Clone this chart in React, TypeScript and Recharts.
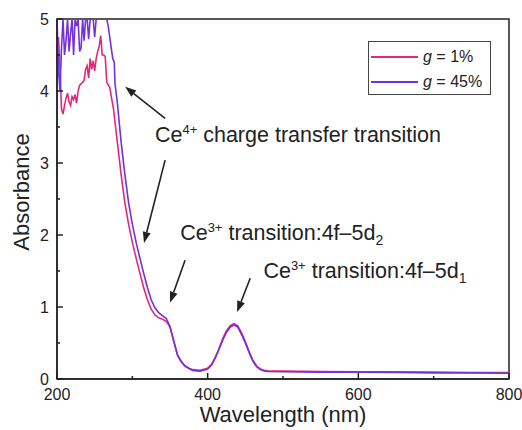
import React from 'react'
import {
  LineChart,
  Line,
  XAxis,
  YAxis,
  ReferenceArea,
  ReferenceLine,
  ReferenceDot,
} from 'recharts'

// g = 1%
const wavelength1 = [
  200, 202, 204, 206, 208, 210, 212, 214, 216, 218, 220, 222, 224, 226, 228, 230, 232, 234,
  236, 238, 240, 242, 244, 246, 248, 250, 252, 254, 256, 258, 260, 262, 264, 266,
  270, 275, 280, 285, 290, 295, 300, 305, 310, 315, 320, 325, 330, 335, 340, 345, 350, 355,
  360, 365, 370, 375, 380, 390, 400, 405, 410, 415, 420, 425, 430, 435, 440, 445, 450, 455,
  460, 465, 470, 475, 480, 500, 550, 600, 650, 700, 750, 800,
]
const absorbance1 = [
  4.6, 4.75, 4.3, 3.75, 3.68, 3.8, 3.9, 3.97, 3.85, 3.8, 3.92, 3.88, 3.95, 3.83, 4.0, 4.08, 4.1, 4.12,
  4.15, 4.3, 4.35, 4.18, 4.45, 4.3, 4.42, 4.28, 4.45, 4.55, 4.62, 4.77, 4.5, 4.5, 4.48, 4.12,
  4.05, 3.75, 3.3, 2.85, 2.45, 2.15, 1.9, 1.68, 1.47, 1.27, 1.1, 0.97, 0.89, 0.85, 0.83, 0.8, 0.72, 0.52,
  0.33, 0.24, 0.18, 0.15, 0.13, 0.12, 0.15, 0.2, 0.3, 0.42, 0.56, 0.67, 0.74, 0.77, 0.74, 0.64, 0.52, 0.38,
  0.26, 0.18, 0.14, 0.12, 0.115, 0.11, 0.105, 0.1, 0.1, 0.095, 0.09, 0.09,
]

// g = 45%
const wavelength45 = [
  200, 202, 204, 206, 208, 210, 212, 214, 216, 218, 220, 222, 224, 226, 228, 230, 232, 234,
  236, 238, 240, 242, 244, 246, 248, 250, 252, 254, 256, 258, 260, 262, 264, 266,
  268, 270, 272, 274, 276, 277,
  280, 285, 290, 295, 300, 305, 310, 315, 320, 325, 330, 335, 340, 345, 350, 355, 360, 365,
  370, 375, 380, 390, 400, 405, 410, 415, 420, 425, 430, 435, 440, 445, 450, 455,
  460, 465, 470, 475, 480, 500, 550, 600, 650, 700, 750, 800,
]
const absorbance45 = [
  5, 4.3, 4.0, 4.6, 5, 4.5, 4.7, 5, 4.55, 4.8, 5, 4.5, 5, 4.9, 5, 4.55, 4.6, 5,
  4.7, 5, 5, 4.72, 5, 5, 5, 4.75, 5, 5, 5, 5, 5, 5, 5, 5,
  4.9, 4.75, 4.6, 4.45, 4.4, 4.1,
  3.85, 3.3, 2.85, 2.45, 2.15, 1.9, 1.68, 1.47, 1.27, 1.1, 0.99, 0.92, 0.88, 0.84, 0.73, 0.53, 0.33, 0.24,
  0.18, 0.15, 0.12, 0.11, 0.14, 0.19, 0.29, 0.41, 0.54, 0.65, 0.72, 0.75, 0.72, 0.62, 0.5, 0.37,
  0.25, 0.17, 0.13, 0.11, 0.105, 0.1, 0.095, 0.095, 0.09, 0.085, 0.085, 0.08,
]

const xTicks = [200, 300, 400, 500, 600, 700, 800]
const yTicks = [0, 0.5, 1, 1.5, 2, 2.5, 3, 3.5, 4, 4.5, 5]
const xLabels = [200, 400, 600, 800]

const series = [
  { name: '1%', color: '#E3287C', data: wavelength1.map((x, i) => ({ x, y: absorbance1[i] })) },
  { name: '45%', color: '#7331DD', data: wavelength45.map((x, i) => ({ x, y: absorbance45[i] })) },
]

// annotation anchors in data units (nm, absorbance)
const notes = [
  { x: 330, y: 3.29, sup: '4+', text: ' charge transfer transition', sub: '' },
  { x: 363.5, y: 1.93, sup: '3+', text: ' transition:4f\u20135d', sub: '2' },
  { x: 474, y: 1.4, sup: '3+', text: ' transition:4f\u20135d', sub: '1' },
]
const arrows = [
  { from: { x: 343.5, y: 3.62 }, to: { x: 290.5, y: 4.06 } },
  { from: { x: 343.5, y: 3.04 }, to: { x: 315.5, y: 1.89 } },
  { from: { x: 370, y: 1.65 }, to: { x: 350, y: 1.06 } },
  { from: { x: 456.5, y: 1.4 }, to: { x: 439, y: 0.93 } },
]

const FONT = '"Liberation Sans", Arial, sans-serif'
const INK = '#222'

const ArrowShape = (p: any) => {
  const { x1, y1, x2, y2 } = p
  const dx = x2 - x1
  const dy = y2 - y1
  const len = Math.hypot(dx, dy)
  const ux = dx / len
  const uy = dy / len
  const hl = 11
  const hw = 4
  const bx = x2 - ux * hl
  const by = y2 - uy * hl
  return (
    <g>
      <line x1={x1} y1={y1} x2={bx} y2={by} stroke={INK} strokeWidth={1.6} />
      <polygon
        points={`${x2},${y2} ${bx - uy * hw},${by + ux * hw} ${bx + uy * hw},${by - ux * hw}`}
        fill={INK}
      />
    </g>
  )
}

const noteShape = (n: (typeof notes)[number]) => (p: any) => (
  <text x={p.cx} y={p.cy} fontFamily={FONT} fontSize={21.5} fill={INK}>
    Ce
    <tspan dy={-8} fontSize={13}>{n.sup}</tspan>
    <tspan dy={8}>{n.text}</tspan>
    {n.sub ? <tspan dy={5} fontSize={14}>{n.sub}</tspan> : null}
  </text>
)

const XTick = (p: any) => {
  const { x, y, payload } = p
  const major = xLabels.includes(payload.value)
  return (
    <g>
      <line x1={x} y1={y} x2={x} y2={y - (major ? 6 : 3)} stroke={INK} strokeWidth={1.5} />
      {major && (
        <text x={x} y={y + 21} textAnchor="middle" fontFamily={FONT} fontSize={16} fill={INK}>
          {payload.value}
        </text>
      )}
    </g>
  )
}

const YTick = (p: any) => {
  const { x, y, payload } = p
  const major = Number.isInteger(payload.value)
  return (
    <g>
      <line x1={x} y1={y} x2={x + (major ? 6 : 3)} y2={y} stroke={INK} strokeWidth={1.5} />
      {major && (
        <text x={x - 8} y={y + 6} textAnchor="end" fontFamily={FONT} fontSize={16} fill={INK}>
          {payload.value}
        </text>
      )}
    </g>
  )
}

const App: React.FC = () => {
  return (
    <div style={{ position: 'absolute', left: 0, top: 0, width: 522, height: 430, background: '#fff' }}>
      <LineChart width={522} height={430} margin={{ top: 19, right: 13, left: 0, bottom: 0 }}>
        <XAxis
          dataKey="x"
          type="number"
          domain={[200, 800]}
          ticks={xTicks}
          tickSize={0}
          tickMargin={0}
          tick={XTick}
          height={51}
          stroke={INK}
          strokeWidth={1.5}
          label={{
            content: (props: any) => {
              const vb = props.viewBox
              return (
                <text x={vb.x + vb.width / 2} y={vb.y + 43} textAnchor="middle" fontFamily={FONT} fontSize={22} fill={INK}>
                  Wavelength (nm)
                </text>
              )
            },
          }}
        />
        <YAxis
          type="number"
          domain={[0, 5]}
          ticks={yTicks}
          tickSize={0}
          tickMargin={0}
          tick={YTick}
          width={57}
          stroke={INK}
          strokeWidth={1.5}
          allowDataOverflow
          label={{
            content: (props: any) => {
              const vb = props.viewBox
              return (
                <text
                  transform={`translate(${vb.x + 29},${vb.y + vb.height / 2 - 7}) rotate(-90)`}
                  textAnchor="middle"
                  fontFamily={FONT}
                  fontSize={22}
                  fill={INK}
                >
                  Absorbance
                </text>
              )
            },
          }}
        />
        <ReferenceArea x1={200} x2={800} y1={0} y2={5} fill="none" stroke={INK} strokeWidth={1.5} ifOverflow="visible" />
        {series.map((s) => (
          <Line
            key={s.name}
            data={s.data}
            dataKey="y"
            type="linear"
            stroke={s.color}
            strokeWidth={1.6}
            dot={false}
            activeDot={false}
            isAnimationActive={false}
          />
        ))}
        {arrows.map((a, i) => (
          <ReferenceLine key={'a' + i} segment={[a.from, a.to]} ifOverflow="visible" shape={ArrowShape} />
        ))}
        {notes.map((n, i) => (
          <ReferenceDot key={'n' + i} x={n.x} y={n.y} r={0} ifOverflow="visible" shape={noteShape(n)} />
        ))}
      </LineChart>
      <div
        style={{
          position: 'absolute',
          left: 368,
          top: 41,
          width: 121,
          height: 52,
          border: '1px solid #444',
          fontFamily: FONT,
          fontSize: 16,
          color: INK,
        }}
      >
        {series.map((s, i) => (
          <div key={s.name} style={{ position: 'absolute', left: 2, top: 5 + i * 25, height: 20, display: 'flex', alignItems: 'center' }}>
            <div style={{ width: 47, height: 2, background: s.color }} />
            <span style={{ marginLeft: 5, whiteSpace: 'nowrap' }}>
              <i>g</i> = {s.name}
            </span>
          </div>
        ))}
      </div>
    </div>
  )
}

export default App
